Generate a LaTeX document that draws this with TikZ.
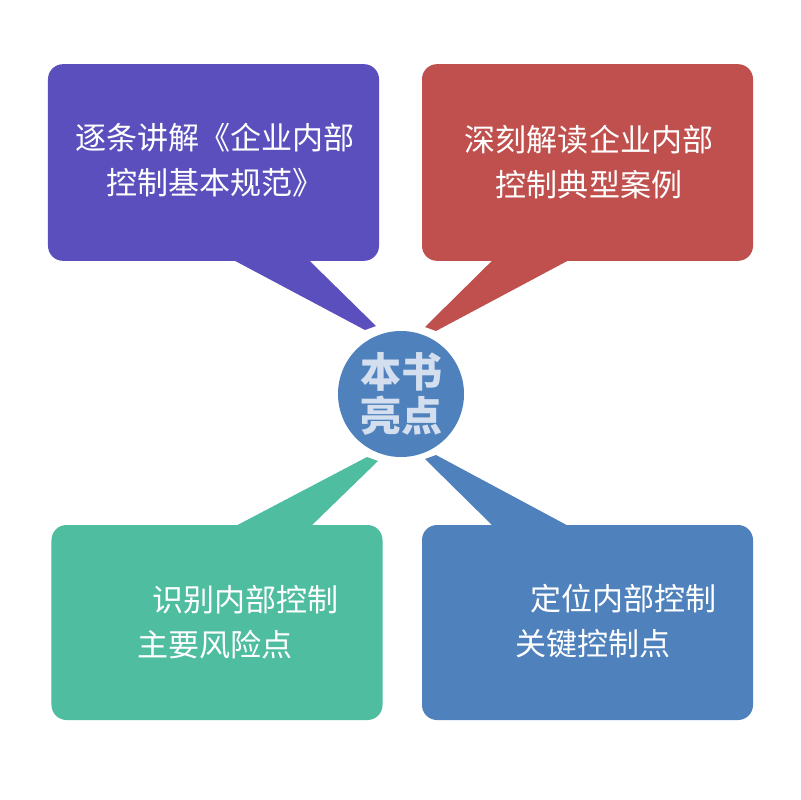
\documentclass[tikz,border=0pt]{standalone}
\usepackage{fontspec}
\newfontfamily\cjk{Noto Sans CJK SC}
\usetikzlibrary{positioning, calc}
\definecolor{boxpurple}{HTML}{5A4FBC}
\definecolor{boxred}{HTML}{C0504D}
\definecolor{boxgreen}{HTML}{4FBDA0}
\definecolor{boxblue}{HTML}{4F81BD}
\definecolor{hubtext}{HTML}{D3DFEE}

\begin{document}
\begin{tikzpicture}[
  x=0.3mm, y=-0.3mm,
  bubble/.style={rectangle, rounded corners=4.5mm, inner sep=0pt,
    minimum width=99.3mm, minimum height=59mm},
  boxtext/.style={text=white, inner sep=0pt,
    font=\cjk\fontsize{26.5}{38}\selectfont},
  hub/.style={circle, fill=boxblue, minimum size=37.8mm, inner sep=0pt,
    text=hubtext, align=center,
    font=\cjk\bfseries\fontsize{35}{37.5}\selectfont}
]
\useasboundingbox[fill=white] (0,0) rectangle (800,800);

% four callout boxes
\node[bubble, fill=boxpurple] (rulebox) at (213.5,162.5) {};
\node[bubble, fill=boxred] (casebox) at (587.5,162.5) {};
\node[bubble, fill=boxgreen, minimum height=58.5mm] (riskbox) at (217,622.5) {};
\node[bubble, fill=boxblue, minimum height=58.5mm] (keybox) at (587.5,622.5) {};

% tail tips near the hub
\coordinate (ruletipA) at (365,330);
\coordinate (ruletipB) at (376,326);
\coordinate (casetipA) at (425,327);
\coordinate (casetipB) at (436,331);
\coordinate (risktipA) at (367,457);
\coordinate (risktipB) at (378,461);
\coordinate (keytipA) at (425,459);
\coordinate (keytipB) at (436,455);

% tails
\fill[boxpurple] ($(rulebox.south west)+(182,-3)$) -- (ruletipA) -- (ruletipB)
  -- ($(rulebox.south west)+(259,-3)$) -- cycle;
\fill[boxred] ($(casebox.south west)+(73,-3)$) -- (casetipA) -- (casetipB)
  -- ($(casebox.south west)+(151,-3)$) -- cycle;
\fill[boxgreen] ($(riskbox.north west)+(181,3)$) -- (risktipA) -- (risktipB)
  -- ($(riskbox.north west)+(258,3)$) -- cycle;
\fill[boxblue] ($(keybox.north west)+(73,3)$) -- (keytipA) -- (keytipB)
  -- ($(keybox.north west)+(150,3)$) -- cycle;

% centre
\node[hub] (hub) at (401,394) {本书\\亮点};

% texts
\node[boxtext, align=center] (ruletext) at (215,160) {逐条讲解《企业内部\\控制基本规范》};
\node[boxtext, align=center] (casetext) at (589,162) {深刻解读企业内部\\控制典型案例};
\node[boxtext, align=left, anchor=west] (risktext) at (137,622)
  {\hspace*{4.5mm}识别内部控制\\主要风险点};
\node[boxtext, align=left, anchor=west] (keytext) at (515,621)
  {\hspace*{4.5mm}定位内部控制\\关键控制点};
\end{tikzpicture}
\end{document}
